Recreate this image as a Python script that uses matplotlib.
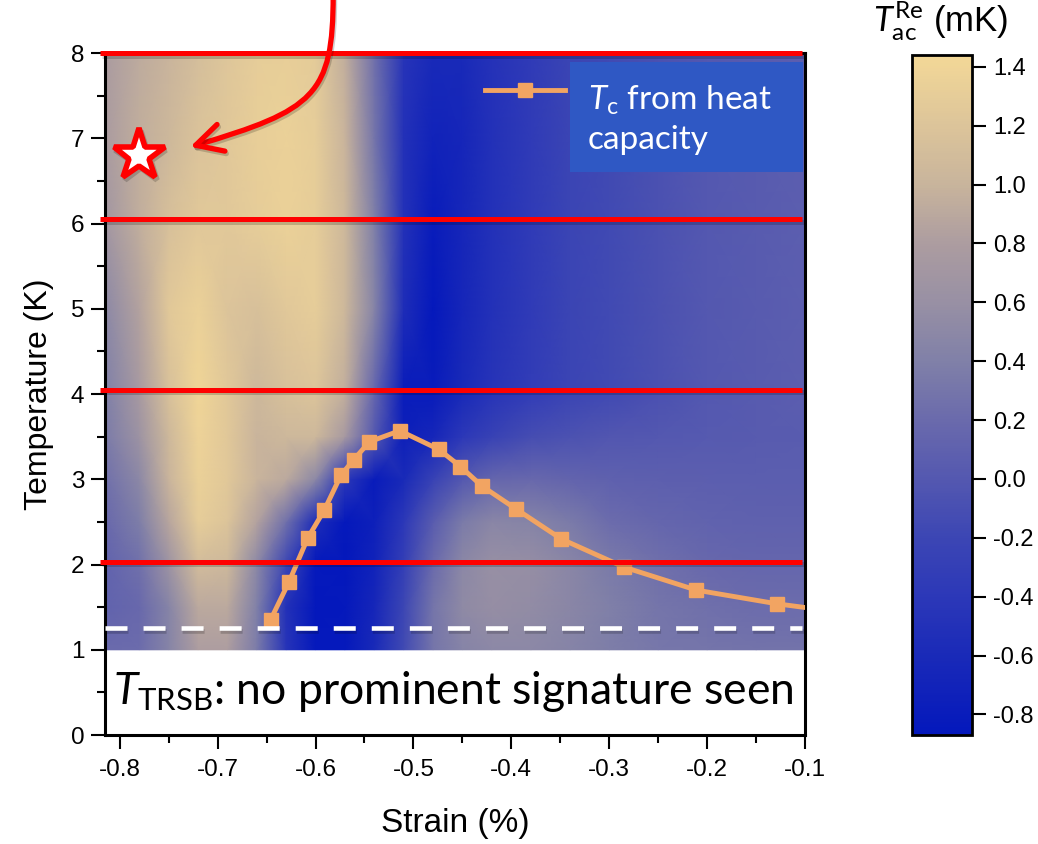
import numpy as np
import matplotlib
matplotlib.use('Agg')
import matplotlib.pyplot as plt
import matplotlib.patheffects as pe
from matplotlib.colors import LinearSegmentedColormap, Normalize
from matplotlib.patches import Rectangle, FancyArrowPatch
from matplotlib.path import Path

plt.rcParams['font.family'] = ['Liberation Sans', 'DejaVu Sans']
plt.rcParams['axes.unicode_minus'] = False
plt.rcParams['mathtext.fontset'] = 'custom'
plt.rcParams['mathtext.rm'] = 'Lato'
plt.rcParams['mathtext.it'] = 'Lato:italic'

# T_ac (real part, mK) map: rows = temperature, columns = strain
strain = [-0.815, -0.78, -0.75, -0.72, -0.69, -0.66, -0.63, -0.60, -0.57, -0.54, -0.51,
          -0.48, -0.45, -0.42, -0.38, -0.34, -0.30, -0.25, -0.20, -0.15, -0.10]
temperature = [1.0, 1.5, 2.0, 2.5, 3.0, 3.5, 4.0, 5.0, 6.0, 7.0, 8.0]
tac_re = [
    [0.20, 0.22, 0.45, 0.80, 0.80, 0.35, -0.45, -0.85, -0.85, -0.60, -0.15, 0.30, 0.45, 0.50, 0.50, 0.45, 0.38, 0.32, 0.30, 0.28, 0.28],
    [0.12, 0.18, 0.45, 0.90, 0.90, 0.40, -0.50, -0.87, -0.85, -0.65, -0.20, 0.30, 0.52, 0.58, 0.55, 0.48, 0.40, 0.30, 0.25, 0.22, 0.22],
    [0.12, 0.25, 0.65, 1.10, 1.05, 0.50, -0.20, -0.85, -0.87, -0.70, -0.30, 0.20, 0.50, 0.60, 0.58, 0.48, 0.35, 0.25, 0.18, 0.15, 0.15],
    [0.18, 0.38, 0.88, 1.30, 1.20, 0.85, 0.25, -0.55, -0.85, -0.75, -0.40, 0.05, 0.35, 0.48, 0.45, 0.35, 0.22, 0.15, 0.12, 0.10, 0.10],
    [0.25, 0.50, 1.00, 1.35, 1.25, 1.00, 0.90, 0.50, -0.40, -0.80, -0.60, -0.25, 0.00, 0.15, 0.18, 0.14, 0.10, 0.08, 0.07, 0.06, 0.06],
    [0.35, 0.65, 1.05, 1.38, 1.25, 1.00, 1.05, 1.05, 0.75, 0.00, -0.75, -0.65, -0.40, -0.25, -0.12, -0.06, -0.02, 0.00, 0.02, 0.04, 0.05],
    [0.40, 0.75, 1.15, 1.40, 1.25, 1.05, 1.15, 1.20, 0.95, 0.15, -0.80, -0.80, -0.60, -0.45, -0.32, -0.22, -0.15, -0.07, 0.00, 0.04, 0.07],
    [0.50, 0.85, 1.25, 1.35, 1.20, 1.15, 1.25, 1.30, 1.05, 0.45, -0.55, -0.85, -0.65, -0.50, -0.35, -0.22, -0.15, -0.07, 0.00, 0.04, 0.07],
    [0.70, 0.95, 1.15, 1.25, 1.25, 1.30, 1.35, 1.30, 1.05, 0.40, -0.50, -0.80, -0.65, -0.50, -0.35, -0.22, -0.15, -0.07, 0.00, 0.04, 0.07],
    [0.78, 0.95, 1.05, 1.18, 1.25, 1.32, 1.35, 1.30, 1.00, 0.30, -0.50, -0.70, -0.65, -0.50, -0.35, -0.22, -0.15, -0.07, 0.00, 0.04, 0.07],
    [0.78, 0.92, 1.00, 1.12, 1.22, 1.30, 1.32, 1.28, 0.95, 0.25, -0.45, -0.60, -0.60, -0.48, -0.35, -0.22, -0.15, -0.07, 0.00, 0.04, 0.07],
]

# Tc from heat capacity
tc_strain = [-0.646, -0.627, -0.608, -0.591, -0.574, -0.561, -0.545, -0.514, -0.474,
             -0.452, -0.430, -0.395, -0.349, -0.285, -0.211, -0.129, -0.05]
tc_temp = [1.35, 1.80, 2.31, 2.64, 3.05, 3.23, 3.44, 3.57, 3.35,
           3.15, 2.92, 2.65, 2.30, 1.97, 1.70, 1.54, 1.42]

# temperatures of the strain sweeps and base temperature
sweep_temps = [8.0, 6.05, 4.05, 2.03]
base_temp = 1.25
star_strain, star_temp = -0.78, 6.8

# colour scale
vmin, vmax = -0.87, 1.44
cmap_vals = [-0.87, -0.6, -0.4, -0.2, 0.0, 0.2, 0.4, 0.6, 0.8, 1.0, 1.2, 1.44]
cmap_cols = ['#0418bc', '#1a2ab8', '#2c38b8', '#3c46b4', '#5458b0', '#6a6aac',
             '#8080a8', '#9890a4', '#ac9ca0', '#c8b49c', '#dcc49a', '#f3d897']
cbar_ticks = [-0.8, -0.6, -0.4, -0.2, 0.0, 0.2, 0.4, 0.6, 0.8, 1.0, 1.2, 1.4]

orange = '#f2a462'
line_shadow = [pe.SimpleLineShadow(offset=(1.0, -1.8), shadow_color='k', alpha=0.18), pe.Normal()]

cmap = LinearSegmentedColormap.from_list(
    'tac', [((v - vmin) / (vmax - vmin), c) for v, c in zip(cmap_vals, cmap_cols)])
norm = Normalize(vmin, vmax)

fig = plt.figure(figsize=(10.38, 8.44), dpi=100)
ax = fig.add_axes([0.1012, 0.1291, 0.6744, 0.808])
cax = fig.add_axes([0.8786, 0.1291, 0.0578, 0.8057])

X, Y = np.meshgrid(strain, temperature)
ax.pcolormesh(X, Y, np.array(tac_re), cmap=cmap, norm=norm, shading='gouraud', zorder=0)

ax.plot(tc_strain, tc_temp, color=orange, lw=3.5, marker='s', ms=10.5, zorder=3)

ax.hlines(sweep_temps, -0.82, -0.103, color='#ff0000', lw=3.6, zorder=4,
          clip_on=False, path_effects=line_shadow)
ax.hlines(base_temp, -0.815, -0.103, color='white', lw=3.3, linestyles=(0, (4.8, 3.5)),
          zorder=4, path_effects=line_shadow)

ax.plot([star_strain], [star_temp], marker='*', ms=39, mfc='white', mec='#ff0000',
        mew=4, zorder=6, path_effects=line_shadow)

# curved arrow coming in from above the frame
arrow_path = Path([(-0.582, 8.68), (-0.582, 7.51), (-0.601, 7.33), (-0.728, 6.90)],
                  [Path.MOVETO, Path.CURVE4, Path.CURVE4, Path.CURVE4])
arrow = FancyArrowPatch(path=arrow_path, arrowstyle='->,head_length=19,head_width=10',
                        mutation_scale=1, color='#ff0000', lw=3.8, zorder=6, fill=False,
                        clip_on=False, capstyle='round', joinstyle='round')
arrow.set_path_effects(line_shadow)
ax.add_patch(arrow)

# legend
ax.add_patch(Rectangle((0.664, 0.826), 0.333, 0.161, transform=ax.transAxes,
                       facecolor='#2f58c4', edgecolor='none', zorder=5))
ax.plot([0.543, 0.657], [0.946, 0.946], color=orange, lw=3.5, transform=ax.transAxes, zorder=5)
ax.plot([0.600], [0.946], color=orange, marker='s', ms=10.5, transform=ax.transAxes, zorder=5)
ax.text(0.69, 0.903, '$T_{\\mathrm{c}}$ from heat\ncapacity', transform=ax.transAxes,
        ha='left', va='center', color='white', fontsize=24, family='Lato',
        linespacing=1.35, zorder=6)

ax.text(0.497, 0.064, '$T_{\\mathrm{TRSB}}$: no prominent signature seen', transform=ax.transAxes,
        ha='center', va='center', fontsize=32, family='Lato', zorder=6)

ax.set_xlim(-0.815, -0.1)
ax.set_ylim(0, 8)
ax.set_xticks(np.arange(-0.8, -0.05, 0.1))
ax.set_xticks(np.arange(-0.8, -0.09, 0.05), minor=True)
ax.set_yticks(range(0, 9))
ax.set_yticks(np.arange(0, 8.1, 0.5), minor=True)
ax.set_xticklabels(['-0.8', '-0.7', '-0.6', '-0.5', '-0.4', '-0.3', '-0.2', '-0.1'])
ax.tick_params(which='both', direction='out', width=1.5, labelsize=17.5)
ax.tick_params(axis='x', pad=7)
ax.tick_params(axis='y', pad=5)
ax.tick_params(which='major', length=10)
ax.tick_params(which='minor', length=5.5)
for s in ax.spines.values():
    s.set_linewidth(2.2)
ax.set_xlabel('Strain (%)', fontsize=24, labelpad=20)
ax.set_ylabel('Temperature (K)', fontsize=23, labelpad=12)

cb = fig.colorbar(plt.cm.ScalarMappable(norm=norm, cmap=cmap), cax=cax)
cb.set_ticks(cbar_ticks)
cb.set_ticklabels(['%.1f' % t for t in cbar_ticks])
cb.outline.set_linewidth(2)
cax.tick_params(direction='out', length=10, width=1.5, labelsize=17, pad=5)
cax.minorticks_off()
fig.text(0.906, 0.962, '$T_{\\mathrm{ac}}^{\\mathrm{Re}}$ (mK)', ha='center', va='baseline', fontsize=25)

fig.savefig('out.png', dpi=100)
